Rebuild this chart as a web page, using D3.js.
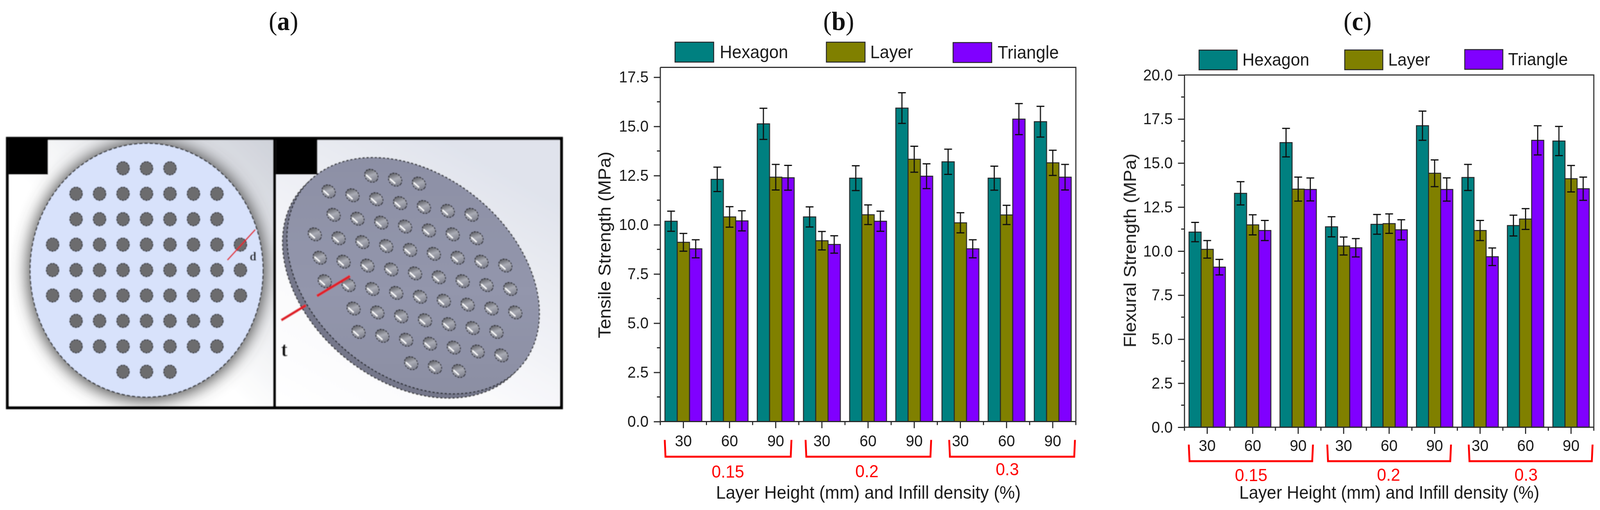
<!DOCTYPE html>
<html>
<head>
<meta charset="utf-8">
<script src="https://cdn.jsdelivr.net/npm/d3@7"></script>
<style>
html,body{margin:0;padding:0;background:#fff;overflow:hidden}
svg{display:block;width:100vw;height:100vh}
text{font-family:"Liberation Sans",Arial,sans-serif;fill:#1a1a1a}
</style>
</head>
<body>
<svg id="c" viewBox="0 0 4306 1306" preserveAspectRatio="none"></svg>
<script>
// ---------- data ----------
const seriesNames = ["Hexagon", "Layer", "Triangle"];
const seriesColors = ["#008080", "#808000", "#8000ff"];
const infillLabels = ["30", "60", "90", "30", "60", "90", "30", "60", "90"];
const layerHeights = ["0.15", "0.2", "0.3"];

const tensileHexagon  = [10.18, 12.31, 15.13, 10.40, 12.37, 15.93, 13.20, 12.37, 15.24];
const tensileLayer    = [9.11, 10.40, 12.42, 9.19, 10.51, 13.33, 10.10, 10.50, 13.15];
const tensileTriangle = [8.78, 10.20, 12.39, 9.00, 10.18, 12.47, 8.78, 15.37, 12.42];
const tensileHexagonErr  = [0.51, 0.62, 0.79, 0.51, 0.63, 0.78, 0.64, 0.61, 0.78];
const tensileLayerErr    = [0.45, 0.52, 0.65, 0.47, 0.50, 0.66, 0.51, 0.49, 0.64];
const tensileTriangleErr = [0.46, 0.51, 0.63, 0.44, 0.51, 0.63, 0.46, 0.79, 0.65];

const flexuralHexagon  = [11.08, 13.28, 16.16, 11.38, 11.52, 17.12, 14.18, 11.45, 16.25];
const flexuralLayer    = [10.10, 11.49, 13.52, 10.29, 11.56, 14.42, 11.17, 11.82, 14.11];
const flexuralTriangle = [9.09, 11.17, 13.50, 10.19, 11.21, 13.50, 9.68, 16.29, 13.54];
const flexuralHexagonErr  = [0.55, 0.66, 0.81, 0.57, 0.56, 0.83, 0.74, 0.59, 0.83];
const flexuralLayerErr    = [0.50, 0.57, 0.68, 0.51, 0.55, 0.76, 0.57, 0.59, 0.75];
const flexuralTriangleErr = [0.44, 0.57, 0.65, 0.52, 0.57, 0.66, 0.50, 0.83, 0.66];

// holes per row of the perforated disc in panel (a)
const holeRowCounts = [3, 7, 7, 9, 9, 9, 7, 7, 3];

// ---------- layout ----------
const panelB = {
  yLabel: "Tensile Strength (MPa)", yMax: 18, yTicks: [0, 2.5, 5, 7.5, 10, 12.5, 15, 17.5],
  values: [tensileHexagon, tensileLayer, tensileTriangle],
  errors: [tensileHexagonErr, tensileLayerErr, tensileTriangleErr],
  left: 1777, right: 2895.3, top: 172.5, bottom: 1079.5,
  tickFont: 41, tickLabelBaseline: 1143, yLabelBaseline: 1643, yLabelCenter: 627,
  xLabelCenter: 2337, xLabelBaseline: 1277, xLabelFont: 46.7, yLabelFont: 47,
  legendSwatch: [[1816.7, 108], [2224, 108], [2565, 109]],
  swatchW: 104, swatchH: 51,
  legendText: [[1937, 149.5], [2342, 149.5], [2685, 150.5]], legendFont: 46,
  brackets: [[1789, 2130], [2168, 2506], [2554.5, 2893]], bracketTop: 1126.5, bracketBottom: 1169.5,
  groupLabels: [[1959, 1223], [2333, 1222], [2711, 1216.7]]
};
const panelC = {
  yLabel: "Flexural Strength (MPa)", yMax: 20, yTicks: [0, 2.5, 5, 7.5, 10, 12.5, 15, 17.5, 20],
  values: [flexuralHexagon, flexuralLayer, flexuralTriangle],
  errors: [flexuralHexagonErr, flexuralLayerErr, flexuralTriangleErr],
  left: 3187.7, right: 4289.3, top: 192, bottom: 1094,
  tickFont: 41, tickLabelBaseline: 1155.5, yLabelBaseline: 3057, yLabelCenter: 641.5,
  xLabelCenter: 3739, xLabelBaseline: 1277, xLabelFont: 46, yLabelFont: 46.8,
  legendSwatch: [[3227, 128.3], [3619, 128], [3942, 127]],
  swatchW: 102.5, swatchH: 50.5,
  legendText: [[3343.5, 168], [3736, 168], [4058.6, 167]], legendFont: 45,
  brackets: [[3199.3, 3533.5], [3572, 3905], [3952.7, 4286]], bracketTop: 1138.5, bracketBottom: 1181,
  groupLabels: [[3367, 1232], [3737, 1231], [4107, 1231]]
};

const svg = d3.select("#c");
const defs = svg.append("defs");
defs.append("filter").attr("id", "soft").attr("x", "-2%").attr("y", "-2%").attr("width", "104%").attr("height", "104%")
  .append("feGaussianBlur").attr("stdDeviation", 0.7);
defs.append("filter").attr("id", "softA").attr("x", "-2%").attr("y", "-2%").attr("width", "104%").attr("height", "104%")
  .append("feGaussianBlur").attr("stdDeviation", 0.9);
defs.append("filter").attr("id", "shadow").attr("x", "-30%").attr("y", "-30%").attr("width", "160%").attr("height", "160%")
  .append("feGaussianBlur").attr("stdDeviation", 22);

svg.append("rect").attr("width", 4306).attr("height", 1306).attr("fill", "#fff");

// ---------- panel titles ----------
function title(cx, letter) {
  const t = svg.append("text").attr("x", cx).attr("y", 77).attr("text-anchor", "middle")
    .style("font-family", "'Liberation Serif',serif").style("font-size", "68px").style("fill", "#111");
  t.append("tspan").text("(");
  t.append("tspan").style("font-weight", "bold").text(letter);
  t.append("tspan").text(")");
}
title(763, "a"); title(2257, "b"); title(3653.6, "c");

// ---------- panel (a) ----------
function drawPanelA() {
  const g = svg.append("g").attr("filter", "url(#softA)");
  const bg1 = defs.append("linearGradient").attr("id", "bgL").attr("x1", 0).attr("y1", 1).attr("x2", 1).attr("y2", 0);
  bg1.append("stop").attr("offset", 0.45).attr("stop-color", "#ffffff");
  bg1.append("stop").attr("offset", 1).attr("stop-color", "#cfd2da");
  const bg2 = defs.append("linearGradient").attr("id", "bgR").attr("x1", 0).attr("y1", 1).attr("x2", 0.6).attr("y2", 0);
  bg2.append("stop").attr("offset", 0).attr("stop-color", "#ffffff");
  bg2.append("stop").attr("offset", 0.35).attr("stop-color", "#fafafc");
  bg2.append("stop").attr("offset", 1).attr("stop-color", "#e0e3ec");
  const discG = defs.append("linearGradient").attr("id", "discR").attr("x1", 0).attr("y1", 0).attr("x2", 1).attr("y2", 1);
  discG.append("stop").attr("offset", 0).attr("stop-color", "#8b8ea3");
  discG.append("stop").attr("offset", 0.55).attr("stop-color", "#9396ac");
  discG.append("stop").attr("offset", 1).attr("stop-color", "#888b9f");
  const holeG = defs.append("linearGradient").attr("id", "holeR").attr("x1", 0).attr("y1", 0).attr("x2", 1).attr("y2", 0.6);
  holeG.append("stop").attr("offset", 0).attr("stop-color", "#3f4045");
  holeG.append("stop").attr("offset", 0.55).attr("stop-color", "#a9abb4");
  holeG.append("stop").attr("offset", 1).attr("stop-color", "#7d7f8c");

  defs.append("clipPath").attr("id", "clipL").append("rect").attr("x", 24).attr("y", 358).attr("width", 711).attr("height", 682);
  defs.append("clipPath").attr("id", "clipR").append("rect").attr("x", 743).attr("y", 358).attr("width", 763).attr("height", 682);

  // left view
  const L = g.append("g").attr("clip-path", "url(#clipL)");
  L.append("rect").attr("x", 24).attr("y", 358).attr("width", 711).attr("height", 682).attr("fill", "url(#bgL)");
  L.append("ellipse").attr("cx", 394.5).attr("cy", 694).attr("rx", 320).attr("ry", 332)
    .attr("fill", "#4a4a4a").attr("filter", "url(#shadow)");
  L.append("ellipse").attr("cx", 394.5).attr("cy", 692).attr("rx", 313.5).attr("ry", 325)
    .attr("fill", "#d8e2fb").attr("stroke", "#2b2d33").attr("stroke-width", 3).attr("stroke-dasharray", "9 5");
  const colX = d3.scaleLinear().domain([0, 8]).range([141.6, 647]);
  const rowY = d3.scaleLinear().domain([0, 8]).range([431, 952]);
  const holes = holeRowCounts.flatMap((n, r) => d3.range(n).map(i => ({ r, c: i + (9 - n) / 2 })));
  L.selectAll("circle.h").data(holes).join("circle").attr("class", "h")
    .attr("cx", d => colX(d.c)).attr("cy", d => rowY(d.r)).attr("r", 17)
    .attr("fill", "#6c6c6e").attr("stroke", "#2f3138").attr("stroke-width", 2.5).attr("stroke-dasharray", "6 2");

  // isometric view
  const R = g.append("g").attr("clip-path", "url(#clipR)");
  R.append("rect").attr("x", 743).attr("y", 358).attr("width", 763).attr("height", 682).attr("fill", "url(#bgR)");
  const discT = "translate(1112,706) rotate(35)";
  R.append("ellipse").attr("transform", "translate(1100,717) rotate(35)").attr("rx", 372).attr("ry", 262)
    .attr("fill", "#74778a").attr("stroke", "#222").attr("stroke-width", 3).attr("stroke-dasharray", "6 5");
  R.append("ellipse").attr("transform", discT).attr("rx", 372).attr("ry", 262)
    .attr("fill", "url(#discR)").attr("stroke", "#1f2024").attr("stroke-width", 3).attr("stroke-dasharray", "6 5");
  const isoX = d3.scaleLinear().domain([-4, 4]).range([1117 - 4 * 64.1, 1117 + 4 * 64.1]);
  const isoXy = d3.scaleLinear().domain([-4, 4]).range([700 - 4 * 10, 700 + 4 * 10]);
  const isoYx = d3.scaleLinear().domain([-4, 4]).range([-4 * 13.4, 4 * 13.4]);
  const isoYy = d3.scaleLinear().domain([-4, 4]).range([-4 * 60, 4 * 60]);
  const pos = d => [isoX(d.c - 4) + isoYx(d.r - 4), isoXy(d.c - 4) + isoYy(d.r - 4)];
  const hg = R.selectAll("g.h").data(holes).join("g").attr("class", "h")
    .attr("transform", d => { const p = pos(d); return `translate(${p[0]},${p[1]}) rotate(35)`; });
  hg.append("ellipse").attr("rx", 19).attr("ry", 15.5).attr("fill", "url(#holeR)")
    .attr("stroke", "#1d1e22").attr("stroke-width", 2.5).attr("stroke-dasharray", "5 3");
  hg.append("line").attr("x1", -13).attr("x2", 6).attr("y1", 6).attr("y2", 8).attr("stroke", "#fff").attr("stroke-width", 3.5);

  // black corners
  g.append("rect").attr("x", 24).attr("y", 358).attr("width", 105).attr("height", 89).attr("fill", "#000");
  g.append("rect").attr("x", 743).attr("y", 358).attr("width", 111).attr("height", 89).attr("fill", "#000");

  // dimensions
  g.append("line").attr("x1", 687).attr("y1", 588).attr("x2", 612).attr("y2", 666).attr("stroke", "#e0202c").attr("stroke-width", 3.5);
  g.append("line").attr("x1", 942).attr("y1", 707).attr("x2", 853).attr("y2", 758).attr("stroke", "#e0202c").attr("stroke-width", 7);
  g.append("line").attr("x1", 823).attr("y1", 782).attr("x2", 757).attr("y2", 820).attr("stroke", "#e0202c").attr("stroke-width", 7);
  g.append("text").attr("x", 681).attr("y", 667).attr("text-anchor", "middle")
    .style("font-family", "'Liberation Serif',serif").style("font-weight", "bold").style("font-size", "32px").style("fill", "#111").text("d");
  g.append("text").attr("x", 765).attr("y", 912).attr("text-anchor", "middle")
    .style("font-family", "'Liberation Serif',serif").style("font-weight", "bold").style("font-size", "52px").style("fill", "#111").text("t");

  // frame
  g.append("rect").attr("x", 20).attr("y", 354.5).attr("width", 1491).attr("height", 689.5)
    .attr("fill", "none").attr("stroke", "#000").attr("stroke-width", 8);
  g.append("line").attr("x1", 739).attr("x2", 739).attr("y1", 354).attr("y2", 1044).attr("stroke", "#000").attr("stroke-width", 8);
}
drawPanelA();

// ---------- bar panels ----------
function drawBars(p) {
  const g = svg.append("g").attr("filter", "url(#soft)");
  const idx = d3.range(infillLabels.length);
  const x = d3.scaleBand().domain(idx).range([p.left, p.right]).paddingInner(0).paddingOuter(0);
  const y = d3.scaleLinear().domain([0, p.yMax]).range([p.bottom, p.top]);
  const groupW = x.bandwidth() * 0.8;
  const x1 = d3.scaleBand().domain(seriesNames).range([0, groupW]);
  const off = x.bandwidth() * 0.1;

  // frame top/right
  g.append("path").attr("d", `M${p.left},${p.top}H${p.right}V${p.bottom}`)
    .attr("fill", "none").attr("stroke", "#333").attr("stroke-width", 3);

  // bars
  seriesNames.forEach((name, s) => {
    g.append("g").selectAll("rect").data(p.values[s]).join("rect")
      .attr("x", (d, i) => x(i) + off + x1(name))
      .attr("y", d => y(d))
      .attr("width", x1.bandwidth())
      .attr("height", d => p.bottom - y(d))
      .attr("fill", seriesColors[s])
      .attr("stroke", "#26282a").attr("stroke-width", 2.5);
  });
  // error bars
  const capHalf = 10.5;
  seriesNames.forEach((name, s) => {
    const eg = g.append("g").selectAll("g").data(p.values[s]).join("g");
    const cx = i => x(i) + off + x1(name) + x1.bandwidth() / 2;
    eg.append("path")
      .attr("d", (d, i) => {
        const e = p.errors[s][i], c = cx(i), t = y(d + e), b = y(d - e);
        return `M${c - capHalf},${t}H${c + capHalf}M${c},${t}V${b}M${c - capHalf},${b}H${c + capHalf}`;
      })
      .attr("fill", "none").attr("stroke", "#111").attr("stroke-width", 3);
  });

  // axes
  const yAxis = d3.axisLeft(y).tickValues(p.yTicks).tickSize(17.5).tickPadding(14).tickFormat(d3.format(".1f"));
  const ya = g.append("g").attr("transform", `translate(${p.left},0)`).call(yAxis);
  const xAxis = d3.axisBottom(x).tickSize(17).tickPadding(0).tickFormat(i => infillLabels[i]);
  const xa = g.append("g").attr("transform", `translate(0,${p.bottom})`).call(xAxis);
  [ya, xa].forEach(a => {
    a.selectAll("path.domain,line").attr("stroke", "#2a2a2a").attr("stroke-width", 3);
    a.selectAll("text").style("font-size", p.tickFont + "px").style("fill", "#1a1a1a");
  });
  ya.selectAll(".domain").attr("d", `M0,${p.bottom}V${p.top}`);
  xa.selectAll(".domain").attr("d", `M${p.left},0H${p.right}`);
  xa.selectAll("text").attr("dy", null).attr("y", p.tickLabelBaseline - p.bottom);
  // minor ticks
  const yMinor = d3.range(1.25, p.yMax, 2.5);
  g.append("g").selectAll("line").data(yMinor).join("line")
    .attr("x1", p.left - 9).attr("x2", p.left).attr("y1", d => y(d)).attr("y2", d => y(d))
    .attr("stroke", "#2a2a2a").attr("stroke-width", 3);
  const xMinor = d3.range(infillLabels.length + 1);
  g.append("g").selectAll("line").data(xMinor).join("line")
    .attr("x1", i => p.left + i * x.step()).attr("x2", i => p.left + i * x.step())
    .attr("y1", p.bottom).attr("y2", p.bottom + 9)
    .attr("stroke", "#2a2a2a").attr("stroke-width", 3);

  // axis titles
  g.append("text").attr("transform", `translate(${p.yLabelBaseline},${p.yLabelCenter}) rotate(-90)`)
    .attr("text-anchor", "middle").style("font-size", p.yLabelFont + "px").text(p.yLabel);
  g.append("text").attr("x", p.xLabelCenter).attr("y", p.xLabelBaseline).attr("text-anchor", "middle")
    .style("font-size", p.xLabelFont + "px").text("Layer Height (mm) and Infill density (%)");

  // legend
  seriesNames.forEach((name, s) => {
    g.append("rect").attr("x", p.legendSwatch[s][0]).attr("y", p.legendSwatch[s][1])
      .attr("width", p.swatchW).attr("height", p.swatchH)
      .attr("fill", seriesColors[s]).attr("stroke", "#26282a").attr("stroke-width", 2.5);
    g.append("text").attr("x", p.legendText[s][0]).attr("y", p.legendText[s][1])
      .style("font-size", p.legendFont + "px").text(name);
  });

  // brackets and group labels
  p.brackets.forEach((b, k) => {
    g.append("path").attr("d", `M${b[0]},${p.bracketTop}L${b[0] + 2},${p.bracketBottom}H${b[1] - 2}L${b[1]},${p.bracketTop}`)
      .attr("fill", "none").attr("stroke", "#ff0000").attr("stroke-width", 5);
    g.append("text").attr("x", p.groupLabels[k][0]).attr("y", p.groupLabels[k][1]).attr("text-anchor", "middle")
      .style("font-size", "45px").style("fill", "#ff0000").text(layerHeights[k]);
  });
}
drawBars(panelB);
drawBars(panelC);
</script>
</body>
</html>
